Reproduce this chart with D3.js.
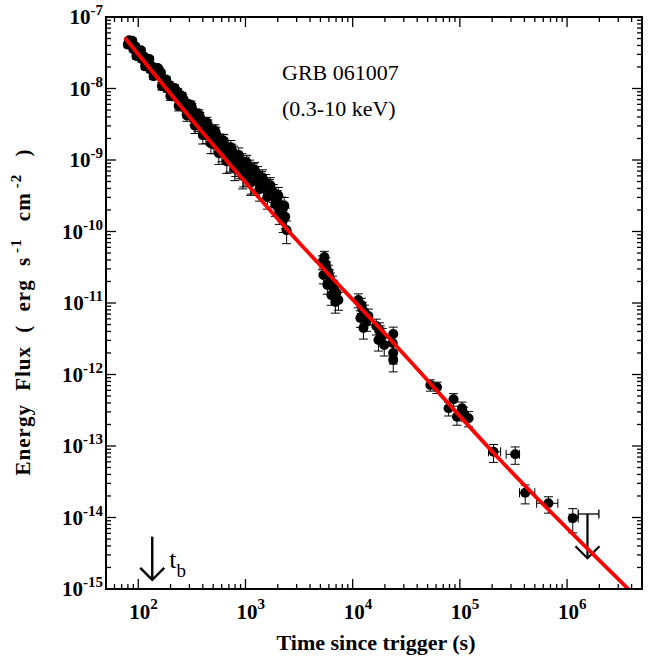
<!DOCTYPE html>
<html>
<head>
<meta charset="utf-8">
<script src="https://cdn.jsdelivr.net/npm/d3@7/dist/d3.min.js"></script>
<style>
  body { margin: 0; background: #fff; }
  svg text { font-family: "Liberation Serif", "Times New Roman", serif; fill: #000; }
</style>
</head>
<body>
<svg id="chart" width="657" height="662"></svg>
<script>
// ---- data ----
// early dense part (first orbit): [time (s), flux, relative error]
const earlyPts = [
  [80, 4.11e-8, 0.08], [82, 4.74e-8, 0.08], [86, 4.30e-8, 0.08], [88, 4.65e-8, 0.08],
  [90, 3.55e-8, 0.08], [94, 3.88e-8, 0.08], [96, 2.84e-8, 0.09], [98, 2.88e-8, 0.09],
  [103, 3.19e-8, 0.08], [106, 3.42e-8, 0.08], [108, 2.58e-8, 0.09], [113, 2.81e-8, 0.08],
  [116, 2.04e-8, 0.1], [118, 2.33e-8, 0.09], [124, 2.52e-8, 0.08], [127, 2.59e-8, 0.08],
  [130, 1.85e-8, 0.1], [136, 2.02e-8, 0.09], [139, 1.48e-8, 0.1], [142, 1.68e-8, 0.1],
  [149, 1.82e-8, 0.09], [152, 1.93e-8, 0.09], [156, 1.81e-8, 0.09], [163, 1.65e-8, 0.1],
  [166, 1.08e-8, 0.12], [170, 1.22e-8, 0.1], [178, 1.27e-8, 0.1], [182, 1.34e-8, 0.1],
  [186, 1.00e-8, 0.11], [195, 1.12e-8, 0.1], [199, 7.85e-9, 0.13], [204, 9.27e-9, 0.11],
  [213, 9.93e-9, 0.1], [218, 1.02e-8, 0.1], [223, 7.66e-9, 0.12], [233, 8.97e-9, 0.1],
  [238, 5.71e-9, 0.15], [244, 7.08e-9, 0.12], [255, 7.91e-9, 0.11], [260, 7.31e-9, 0.12],
  [266, 6.73e-9, 0.12], [278, 5.09e-9, 0.14], [284, 4.19e-9, 0.17], [290, 6.12e-9, 0.12],
  [303, 4.74e-9, 0.15], [310, 5.89e-9, 0.13], [316, 5.43e-9, 0.13], [330, 3.75e-9, 0.18],
  [338, 3.01e-9, 0.22], [345, 4.50e-9, 0.15], [360, 3.11e-9, 0.2], [368, 4.34e-9, 0.16],
  [376, 4.00e-9, 0.16], [392, 2.96e-9, 0.2], [400, 2.23e-9, 0.25], [410, 3.31e-9, 0.18],
  [428, 2.24e-9, 0.24], [437, 3.35e-9, 0.18], [447, 3.08e-9, 0.18], [466, 2.13e-9, 0.24],
  [476, 1.71e-9, 0.28], [487, 2.55e-9, 0.2], [508, 1.65e-9, 0.26], [518, 2.59e-9, 0.2],
  [530, 2.39e-9, 0.2], [553, 1.73e-9, 0.25], [565, 1.24e-9, 0.3], [577, 1.89e-9, 0.22],
  [602, 1.31e-9, 0.28], [615, 1.87e-9, 0.22], [628, 1.85e-9, 0.22], [655, 1.25e-9, 0.28],
  [670, 9.55e-10, 0.32], [684, 1.50e-9, 0.25], [714, 9.66e-10, 0.3], [730, 1.51e-9, 0.24],
  [745, 1.33e-9, 0.25], [778, 1.24e-9, 0.26], [795, 7.57e-10, 0.32], [812, 8.38e-10, 0.3],
  [848, 1.03e-9, 0.28], [866, 1.17e-9, 0.26], [885, 7.80e-10, 0.3], [924, 9.57e-10, 0.28],
  [944, 5.97e-10, 0.34], [964, 6.18e-10, 0.32], [1005, 8.55e-10, 0.28], [1028, 9.23e-10, 0.26],
  [1050, 6.18e-10, 0.3], [1095, 7.78e-10, 0.28], [1118, 4.85e-10, 0.34], [1140, 4.91e-10, 0.32],
  [1190, 6.92e-10, 0.28], [1215, 7.35e-10, 0.26], [1240, 5.15e-10, 0.3], [1295, 6.32e-10, 0.28],
  [1320, 4.98e-10, 0.3], [1350, 3.91e-10, 0.32], [1410, 5.38e-10, 0.28], [1440, 5.70e-10, 0.28],
  [1470, 4.08e-10, 0.3], [1535, 4.90e-10, 0.28], [1568, 4.03e-10, 0.3], [1600, 3.02e-10, 0.32],
  [1670, 4.16e-10, 0.28], [1707, 4.42e-10, 0.28], [1745, 3.15e-10, 0.3], [1820, 3.54e-10, 0.28],
  [1860, 3.18e-10, 0.3], [1900, 2.39e-10, 0.32], [1980, 2.87e-10, 0.3], [2025, 3.18e-10, 0.3],
  [2070, 1.85e-10, 0.32], [2160, 2.33e-10, 0.3], [2200, 2.01e-10, 0.32], [2250, 1.47e-10, 0.34],
  [2300, 2.30e-10, 0.3], [2350, 1.61e-10, 0.32], [2420, 1.04e-10, 0.35]
];

// later orbits: [time (s), flux, relative error]
const midPts = [
  [5220, 3.74e-11, 0.22], [5450, 4.40e-11, 0.2], [5690, 3.09e-11, 0.22], [5330, 2.47e-11, 0.25],
  [5935, 2.72e-11, 0.24], [6195, 2.10e-11, 0.25], [5810, 1.79e-11, 0.26], [6470, 1.90e-11, 0.25],
  [6752, 1.52e-11, 0.26], [6330, 1.29e-11, 0.28], [7050, 1.38e-11, 0.26], [7360, 1.10e-11, 0.28],
  [6900, 1.03e-11, 0.3], [5600, 3.50e-11, 0.22], [6050, 2.35e-11, 0.24], [6600, 1.65e-11, 0.26],
  [11300, 1.10e-11, 0.22], [12050, 9.38e-12, 0.24], [12850, 7.48e-12, 0.25], [11800, 6.17e-12, 0.26],
  [13430, 5.42e-12, 0.26], [12600, 4.47e-12, 0.3], [14030, 6.57e-12, 0.25], [12300, 8.24e-12, 0.24],
  [16600, 4.76e-12, 0.25], [17750, 4.19e-12, 0.26], [18900, 3.45e-12, 0.28], [17400, 3.04e-12, 0.3],
  [19700, 2.59e-12, 0.3], [18100, 3.80e-12, 0.26],
  [23900, 3.68e-12, 0.25], [23600, 2.76e-12, 0.28], [23900, 2.00e-12, 0.3], [23900, 1.60e-12, 0.32],
  [53000, 7.13e-13, 0.18], [61200, 6.62e-13, 0.18],
  [87300, 4.50e-13, 0.2], [78500, 3.37e-13, 0.22], [94000, 2.57e-13, 0.24], [104700, 3.37e-13, 0.22],
  [120500, 2.44e-13, 0.24], [108400, 2.86e-13, 0.22]
];

// sparse late points: [time, tLow, tHigh, flux, fLow, fHigh]
const latePts = [
  [2.06e5, 1.85e5, 2.40e5, 8.3e-14, 5.9e-14, 1.05e-13],
  [3.28e5, 2.70e5, 3.60e5, 7.65e-14, 5.55e-14, 9.7e-14],
  [4.07e5, 3.60e5, 5.00e5, 2.22e-14, 1.55e-14, 2.85e-14],
  [6.70e5, 5.20e5, 8.20e5, 1.58e-14, 1.15e-14, 1.95e-14],
  [1.13e6, 1.05e6, 1.27e6, 9.8e-15, 6.1e-15, 1.33e-14]
];

// upper limit: [time, tLow, tHigh, flux limit, arrow tip flux]
const upperLimit = [1.55e6, 1.27e6, 1.98e6, 1.12e-14, 2.7e-15];

// model curve: time (s) and flux
const modelTime = [75, 381, 2447, 2.59e4, 2.38e5, 3.73e6];
const modelFlux = [5.13e-8, 2.63e-9, 1.07e-10, 2.45e-12, 6.37e-14, 1.0e-15];

// break time marker
const tBreak = 135;
const tBreakArrow = [5.4e-15, 1.34e-15];

const xExps = [2, 3, 4, 5, 6];
const yExps = [-15, -14, -13, -12, -11, -10, -9, -8, -7];

// ---- layout ----
const mLeft = 106, mRight = 642, mTop = 17, mBottom = 589;

const svg = d3.select("#chart");

const x = d3.scaleLog().domain([50, 5e6]).range([mLeft, mRight]);
const y = d3.scaleLog().domain([1e-15, 1e-7]).range([mBottom, mTop]);

svg.append("defs").append("clipPath").attr("id", "plotclip")
  .append("rect").attr("x", mLeft).attr("y", mTop)
  .attr("width", mRight - mLeft).attr("height", mBottom - mTop);

const plot = svg.append("g").attr("clip-path", "url(#plotclip)");

// error bars (y) with caps
const capW = 4.5;
const allRel = earlyPts.concat(midPts);
const eb = plot.append("g").attr("stroke", "#000").attr("stroke-width", 1);
allRel.forEach(function (d) {
  const cx = x(d[0]);
  const yHi = y(d[1] * (1 + d[2])), yLo = y(d[1] * (1 - d[2]));
  eb.append("line").attr("x1", cx).attr("x2", cx).attr("y1", yHi).attr("y2", yLo);
  eb.append("line").attr("x1", cx - capW).attr("x2", cx + capW).attr("y1", yHi).attr("y2", yHi);
  eb.append("line").attr("x1", cx - capW).attr("x2", cx + capW).attr("y1", yLo).attr("y2", yLo);
});

latePts.forEach(function (d) {
  const cx = x(d[0]), cy = y(d[3]);
  const yHi = y(d[5]), yLo = y(d[4]);
  const xL = x(d[1]), xR = x(d[2]);
  eb.append("line").attr("x1", cx).attr("x2", cx).attr("y1", yHi).attr("y2", yLo);
  eb.append("line").attr("x1", cx - capW).attr("x2", cx + capW).attr("y1", yHi).attr("y2", yHi);
  eb.append("line").attr("x1", cx - capW).attr("x2", cx + capW).attr("y1", yLo).attr("y2", yLo);
  eb.append("line").attr("x1", xL).attr("x2", xR).attr("y1", cy).attr("y2", cy);
  eb.append("line").attr("x1", xL).attr("x2", xL).attr("y1", cy - capW).attr("y2", cy + capW);
  eb.append("line").attr("x1", xR).attr("x2", xR).attr("y1", cy - capW).attr("y2", cy + capW);
});

// points
plot.append("g").selectAll("circle")
  .data(allRel.map(d => [d[0], d[1]]).concat(latePts.map(d => [d[0], d[3]])))
  .join("circle")
  .attr("cx", d => x(d[0]))
  .attr("cy", d => y(d[1]))
  .attr("r", 5)
  .attr("fill", "#000");

// upper limit
const ul = plot.append("g").attr("stroke", "#000").attr("fill", "none");
const ux = x(upperLimit[0]), uy = y(upperLimit[3]), uTip = y(upperLimit[4]);
ul.append("line").attr("x1", x(upperLimit[1])).attr("x2", x(upperLimit[2]))
  .attr("y1", uy).attr("y2", uy).attr("stroke-width", 1.3);
ul.append("line").attr("x1", x(upperLimit[1])).attr("x2", x(upperLimit[1]))
  .attr("y1", uy - capW).attr("y2", uy + capW).attr("stroke-width", 1.3);
ul.append("line").attr("x1", x(upperLimit[2])).attr("x2", x(upperLimit[2]))
  .attr("y1", uy - capW).attr("y2", uy + capW).attr("stroke-width", 1.3);
ul.append("line").attr("x1", ux).attr("x2", ux).attr("y1", uy).attr("y2", uTip).attr("stroke-width", 2.2);
ul.append("path").attr("d", `M${ux - 12},${uTip - 12}L${ux},${uTip}L${ux + 12},${uTip - 12}`)
  .attr("stroke-width", 2.2);

// model line
const modelLine = d3.line().x(d => x(d[0])).y(d => y(d[1])).curve(d3.curveMonotoneX);
plot.append("path")
  .datum(modelTime.map((t, i) => [t, modelFlux[i]]))
  .attr("d", modelLine)
  .attr("fill", "none")
  .attr("stroke", "#f00")
  .attr("stroke-width", 3.8);

// t_b arrow
const tb = svg.append("g").attr("stroke", "#000").attr("fill", "none").attr("stroke-width", 2.4);
const bx = x(tBreak), bTop = y(tBreakArrow[0]), bTip = y(tBreakArrow[1]);
tb.append("line").attr("x1", bx).attr("x2", bx).attr("y1", bTop).attr("y2", bTip);
tb.append("path").attr("d", `M${bx - 12},${bTip - 12}L${bx},${bTip}L${bx + 12},${bTip - 12}`);
const tbText = svg.append("text").attr("x", bx + 17).attr("y", bTip - 12).attr("font-size", 26).text("t");
tbText.append("tspan").attr("dy", 9).attr("font-size", 19).text("b");

// ---- frame and ticks (inward, all four sides) ----
const ax = svg.append("g").attr("stroke", "#000").attr("stroke-width", 1.3);
const isMajor = v => Math.abs(Math.log10(v) - Math.round(Math.log10(v))) < 1e-6;
x.ticks().forEach(function (v) {
  const px = x(v), len = isMajor(v) ? 10 : 5;
  ax.append("line").attr("x1", px).attr("x2", px).attr("y1", mBottom).attr("y2", mBottom - len);
  ax.append("line").attr("x1", px).attr("x2", px).attr("y1", mTop).attr("y2", mTop + len);
});
y.ticks().forEach(function (v) {
  const py = y(v), len = isMajor(v) ? 10 : 5;
  ax.append("line").attr("x1", mLeft).attr("x2", mLeft + len).attr("y1", py).attr("y2", py);
  ax.append("line").attr("x1", mRight).attr("x2", mRight - len).attr("y1", py).attr("y2", py);
});
svg.append("rect").attr("x", mLeft).attr("y", mTop)
  .attr("width", mRight - mLeft).attr("height", mBottom - mTop)
  .attr("fill", "none").attr("stroke", "#000").attr("stroke-width", 2);

// tick labels
xExps.forEach(function (e) {
  const t = svg.append("text").attr("x", x(Math.pow(10, e)) - 9).attr("y", 619)
    .attr("font-size", 21).attr("font-weight", "bold").text("10");
  t.append("tspan").attr("dy", -10).attr("font-size", 15).text(e);
});
yExps.forEach(function (e) {
  const t = svg.append("text").attr("x", 103).attr("y", y(Math.pow(10, e)) + 7)
    .attr("text-anchor", "end").attr("font-size", 21).attr("font-weight", "bold").text("10");
  t.append("tspan").attr("dy", -9).attr("font-size", 15).text(e);
});

// axis titles
svg.append("text").attr("x", (mLeft + mRight) / 2 + 2).attr("y", 650)
  .attr("text-anchor", "middle").attr("font-size", 22).attr("font-weight", "bold")
  .text("Time since trigger (s)");

const yt = svg.append("text")
  .attr("transform", "translate(30,312) rotate(-90)")
  .attr("text-anchor", "middle").attr("font-size", 21).attr("font-weight", "bold")
  .attr("letter-spacing", 1).attr("word-spacing", 7);
yt.append("tspan").text("Energy Flux ( erg s");
yt.append("tspan").attr("dx", 4).attr("dy", -9).attr("font-size", 15).text("-1");
yt.append("tspan").attr("dx", 4).attr("dy", 9).text(" cm");
yt.append("tspan").attr("dx", 4).attr("dy", -9).attr("font-size", 15).text("-2");
yt.append("tspan").attr("dx", 4).attr("dy", 9).text(" )");

// annotation
svg.append("text").attr("x", 282).attr("y", 80).attr("font-size", 22).text("GRB 061007");
svg.append("text").attr("x", 282).attr("y", 116).attr("font-size", 22).text("(0.3-10 keV)");
</script>
</body>
</html>
